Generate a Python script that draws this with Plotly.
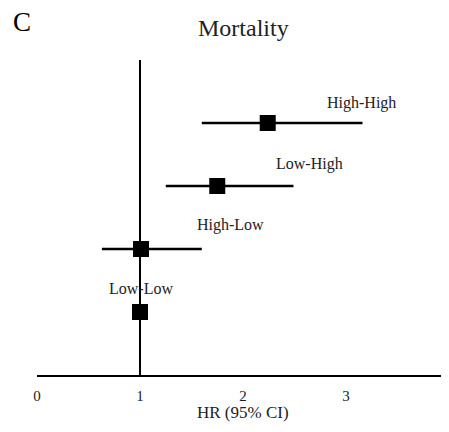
import plotly.graph_objects as go

groups = ["High-High", "Low-High", "High-Low", "Low-Low"]
hr = [2.24, 1.75, 1.01, 1.00]
ci_low = [1.60, 1.25, 0.63, 1.00]
ci_high = [3.16, 2.49, 1.60, 1.00]
ypos = [4, 3, 2, 1]
label_x = [3.15, 2.65, 1.88, 1.01]
label_y = [4.32, 3.35, 2.38, 1.37]
xticks = [0, 1, 2, 3, 4]

serif = "Liberation Serif, Times New Roman, serif"

# page body has an 8px default margin; size the figure so it fits the window
W, H = 433, 416
L, T, B = 29, 52, 49
PW = W - L  # plot width in px
PH = H - T - B  # plot height in px

fig = go.Figure()
fig.add_trace(go.Scatter(
    x=hr, y=ypos, mode="markers",
    marker=dict(symbol="square", size=16, color="black"),
    error_x=dict(type="data", symmetric=False,
                 array=[h - m for h, m in zip(ci_high, hr)],
                 arrayminus=[m - l for m, l in zip(hr, ci_low)],
                 color="black", thickness=2.5, width=0),
    showlegend=False, hoverinfo="skip", cliponaxis=False,
))

fig.add_shape(type="line", x0=1, x1=1, y0=0, y1=5, xref="x", yref="y",
              line=dict(color="black", width=2), layer="below")

for g, lx, ly in zip(groups, label_x, label_y):
    fig.add_annotation(x=lx, y=ly, text=g, showarrow=False,
                       xanchor="center", yanchor="middle",
                       font=dict(family=serif, size=16, color="#222"))

fig.add_annotation(x=(235 - L) / PW, y=1 + (T - 20) / PH, xref="paper", yref="paper",
                   text="Mortality", showarrow=False, xanchor="center", yanchor="middle",
                   font=dict(family=serif, size=24, color="#222"))
fig.add_annotation(x=(14 - L) / PW, y=1 + (T - 14) / PH, xref="paper", yref="paper",
                   text="C", showarrow=False, xanchor="center", yanchor="middle",
                   font=dict(family=serif, size=27, color="black"))
fig.add_annotation(x=(235 - L) / PW, y=-(H - (H - B)) / PH, xref="paper", yref="paper",
                   text="HR (95% CI)", showarrow=False, xanchor="center", yanchor="bottom",
                   font=dict(family=serif, size=17, color="#222"))

fig.update_layout(
    width=W, height=H,
    margin=dict(l=L, r=0, t=T, b=B, pad=0),
    plot_bgcolor="white", paper_bgcolor="white",
    xaxis=dict(range=[0, PW / 103.0], tickvals=xticks, showgrid=False, zeroline=False,
               showline=True, linecolor="black", linewidth=2, ticks="",
               automargin=False, ticklabelstandoff=6,
               tickfont=dict(family=serif, size=15, color="#222")),
    yaxis=dict(range=[0, 5], visible=False, showgrid=False, zeroline=False, automargin=False),
)

fig.write_html("out.html")
